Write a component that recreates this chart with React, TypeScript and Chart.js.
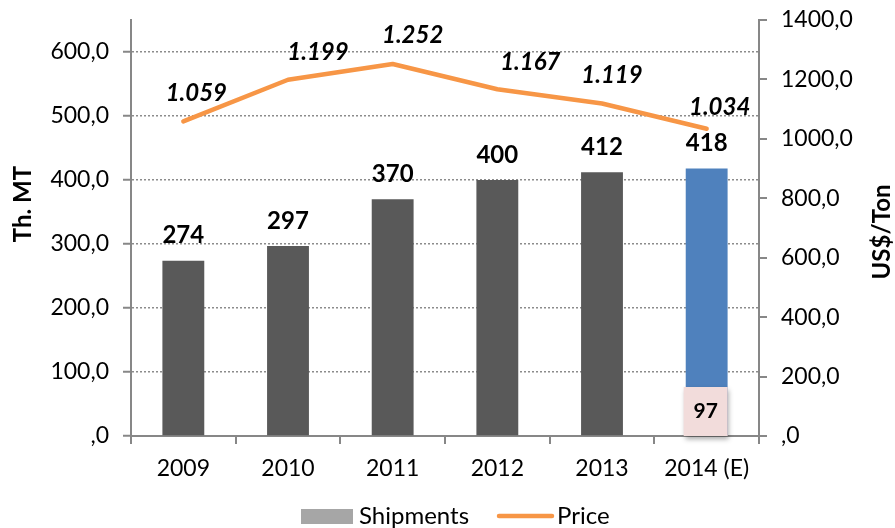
import { useEffect, useRef } from 'react';
import { Chart, registerables } from 'chart.js';

Chart.register(...registerables);

const categories = ['2009', '2010', '2011', '2012', '2013', '2014 (E)'];
const shipments = [274, 297, 370, 400, 412, 418];
const price = [1059, 1199, 1252, 1167, 1119, 1034];
const partialShipments = [null, null, null, null, null, 97];
const barColors = ['#595959', '#595959', '#595959', '#595959', '#595959', '#4F81BD'];

// label placement offsets (style only)
const priceLabelDx = [13, 30, 20, 33, 10, 13];
const priceLabelDy = [-28, -27, -29, -27, -28, -21];

const FONT = 'Lato, "Open Sans", sans-serif';
const AXIS = '#878787';

const fmtAxis = (v: number) => (v === 0 ? ',0' : v.toFixed(1).replace('.', ','));
const fmtPrice = (v: number) => (v / 1000).toFixed(3);

const labelsPlugin = {
  id: 'customLabels',
  afterDatasetsDraw(chart: any) {
    const ctx = chart.ctx;
    const barMeta = chart.getDatasetMeta(1);
    const lineMeta = chart.getDatasetMeta(0);
    const yScale = chart.scales.y;
    ctx.save();
    ctx.fillStyle = '#000';
    ctx.textAlign = 'center';
    ctx.textBaseline = 'middle';
    ctx.font = `bold 24px ${FONT}`;
    barMeta.data.forEach((el: any, i: number) => {
      ctx.fillText(String(shipments[i]), el.x, el.y - 25);
    });
    ctx.font = `italic bold 24px ${FONT}`;
    lineMeta.data.forEach((el: any, i: number) => {
      ctx.fillText(fmtPrice(price[i]), el.x + priceLabelDx[i], el.y + priceLabelDy[i]);
    });
    partialShipments.forEach((v, i) => {
      if (v == null) return;
      const el = barMeta.data[i];
      const base = yScale.getPixelForValue(0);
      const w = 44;
      const h = 49;
      const x = el.x - w / 2 - 1;
      const y = base - h;
      ctx.save();
      ctx.shadowColor = 'rgba(0,0,0,0.35)';
      ctx.shadowBlur = 5;
      ctx.shadowOffsetX = 1;
      ctx.shadowOffsetY = 3;
      ctx.fillStyle = '#F2DCDB';
      ctx.fillRect(x, y, w, h);
      ctx.restore();
      ctx.fillStyle = '#000';
      ctx.font = `bold 21px ${FONT}`;
      ctx.fillText(String(v), x + w / 2, y + h / 2);
    });
    ctx.restore();
  },
  afterDraw(chart: any) {
    const ctx = chart.ctx;
    ctx.save();
    ctx.fillStyle = '#000';
    ctx.textAlign = 'center';
    ctx.textBaseline = 'middle';
    ctx.font = `bold 24px ${FONT}`;
    // left title
    ctx.save();
    ctx.translate(23, 204);
    ctx.rotate(-Math.PI / 2);
    ctx.fillText('Th. MT', 0, 0);
    ctx.restore();
    // right title
    ctx.save();
    ctx.translate(882, 232);
    ctx.rotate(-Math.PI / 2);
    ctx.fillText('US$/Ton', 0, 0);
    ctx.restore();
    // legend
    const ly = 516;
    ctx.textAlign = 'left';
    ctx.font = `24px ${FONT}`;
    ctx.fillStyle = '#A6A6A6';
    ctx.fillRect(301, ly - 7, 52, 15);
    ctx.fillStyle = '#000';
    ctx.fillText('Shipments', 359, ly);
    ctx.strokeStyle = '#F79646';
    ctx.lineWidth = 4.5;
    ctx.lineCap = 'round';
    ctx.beginPath();
    ctx.moveTo(499, ly);
    ctx.lineTo(552, ly);
    ctx.stroke();
    ctx.fillText('Price', 557, ly);
    ctx.restore();
  },
};

export default function App() {
  const ref = useRef<HTMLCanvasElement>(null);
  useEffect(() => {
    const chart = new Chart(ref.current as HTMLCanvasElement, {
      type: 'bar',
      data: {
        labels: categories,
        datasets: [
          {
            type: 'line',
            label: 'Price',
            data: price,
            yAxisID: 'y1',
            borderColor: '#F79646',
            backgroundColor: '#F79646',
            borderWidth: 4.5,
            pointRadius: 0,
            tension: 0,
            borderCapStyle: 'round',
            borderJoinStyle: 'round',
            order: 0,
          } as any,
          {
            type: 'bar',
            label: 'Shipments',
            data: shipments,
            yAxisID: 'y',
            backgroundColor: barColors,
            barPercentage: 0.4,
            categoryPercentage: 1,
            order: 1,
          },
        ],
      },
      options: {
        responsive: false,
        animation: false,
        devicePixelRatio: 1,
        layout: { padding: { top: 20, left: 0, right: 0, bottom: 0 } },
        plugins: { legend: { display: false }, tooltip: { enabled: false } },
        scales: {
          x: {
            grid: {
              display: true,
              drawOnChartArea: false,
              offset: true,
              tickLength: 8,
              color: AXIS,
              lineWidth: 2,
            },
            border: { color: AXIS, width: 2 },
            ticks: { color: '#000', font: { family: FONT, size: 23 }, padding: 11 },
            afterFit: (s: any) => {
              s.height = 92;
            },
          },
          y: {
            position: 'left',
            min: 0,
            max: 650,
            ticks: {
              stepSize: 100,
              color: '#000',
              font: { family: FONT, size: 23 },
              padding: 14,
              callback: (v: any) => fmtAxis(Number(v)),
            },
            afterBuildTicks: (s: any) => {
              s.ticks = s.ticks.filter((t: any) => t.value <= 600);
            },
            grid: {
              color: '#8c8c8c',
              lineWidth: 1.5,
              tickLength: 8,
              tickColor: AXIS,
              tickWidth: 2,
              tickBorderDash: [],
            },
            border: { color: AXIS, width: 2, dash: [2, 2] },
            afterFit: (s: any) => {
              s.width = 131;
              s.paddingTop = 0;
              s.paddingBottom = 0;
            },
          },
          y1: {
            position: 'right',
            min: 0,
            max: 1400,
            ticks: {
              stepSize: 200,
              color: '#000',
              font: { family: FONT, size: 23 },
              padding: 14,
              callback: (v: any) => fmtAxis(Number(v)),
            },
            grid: {
              drawOnChartArea: false,
              tickLength: 8,
              color: AXIS,
              lineWidth: 2,
            },
            border: { color: AXIS, width: 2 },
            afterFit: (s: any) => {
              s.width = 136;
              s.paddingTop = 0;
              s.paddingBottom = 0;
            },
          },
        },
      },
      plugins: [labelsPlugin],
    });
    return () => chart.destroy();
  }, []);
  return (
    <div style={{ position: 'fixed', left: 0, top: 0, width: 895, height: 528, background: '#fff' }}>
      <canvas ref={ref} width={895} height={528} style={{ display: 'block' }} />
    </div>
  );
}
